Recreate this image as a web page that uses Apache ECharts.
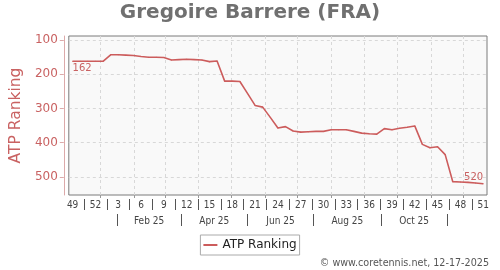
<!DOCTYPE html>
<html><head><meta charset="utf-8">
<script src="https://cdn.jsdelivr.net/npm/echarts@6/dist/echarts.min.js"></script>
<style>html,body{margin:0;padding:0;background:#fff}#c{width:500px;height:270px}</style>
</head><body><div id="c"></div>
<script>
// ---- data ----
const weekLabels = ['49','50','51','52','1','2','3','4','5','6','7','8','9','10','11','12','13','14','15','16','17','18','19','20','21','22','23','24','25','26','27','28','29','30','31','32','33','34','35','36','37','38','39','40','41','42','43','44','45','46','47','48','49','50','51'];
const ranking = [162,162,162,162,162,143,143,144,145,148,150,150,151,158,157,156,157,158,163,161,220,220,221,256,291,296,326,357,353,366,369,368,367,367,362,362,362,367,372,374,375,359,362,358,355,351,405,415,412,435,514,515,516,518,520];
const yTicks = [100,200,300,400,500];
const monthLabels = ['Feb 25','Apr 25','Jun 25','Aug 25','Oct 25'];
const monthSepDates = [[2025,0,16],[2025,2,16],[2025,4,16],[2025,6,16],[2025,8,16],[2025,10,16]];
const monthStartDates = [[2025,0,1],[2025,1,1],[2025,2,1],[2025,3,1],[2025,4,1],[2025,5,1],[2025,6,1],[2025,7,1],[2025,8,1],[2025,9,1],[2025,10,1],[2025,11,1]];
const titleText = 'Gregoire Barrere (FRA)';
const seriesName = 'ATP Ranking';
const creditText = '\u00a9 www.coretennis.net, 12-17-2025';

// ---- helpers ----
const DAY = 86400000;
const ref = Date.UTC(2025,0,1);
const dayOf = d => (Date.UTC(d[0],d[1],d[2]) - ref) / DAY;
const n = ranking.length;
const labelIdx = weekLabels.map((_, i) => i).filter(i => i % 3 === 0);
const sepIdx = [];
for (let i = 1.5; i < n - 1; i += 3) sepIdx.push(i);
const sepDays = monthSepDates.map(dayOf);
const monthLabelDays = monthLabels.map((_, k) => (sepDays[k] + sepDays[k+1]) / 2);
const monthStartDays = monthStartDates.map(dayOf);
const dayMin = -29.4, dayMax = dayMin + n * 7;

const red = '#cc5c5c';
const labRed = '#c96262';
const small = 'DejaVu Sans Condensed, DejaVu Sans';

const data = ranking.map((v, i) => {
  const item = { value: [i, v] };
  if (i === 0) item.label = { show: true, position: 'bottom', distance: 2, align: 'left', formatter: String(v), color: labRed, fontSize: 10, fontFamily: 'DejaVu Sans' };
  if (i === n - 1) item.label = { show: true, position: 'top', distance: 1, align: 'right', formatter: String(v), color: labRed, fontSize: 10, fontFamily: 'DejaVu Sans' };
  return item;
});

const chart = echarts.init(document.getElementById('c'), null, { renderer: 'canvas' });
chart.setOption({
  animation: false,
  backgroundColor: '#ffffff',
  title: {
    text: titleText, left: 'center', top: 3, padding: 0,
    textStyle: { fontFamily: 'DejaVu Sans', fontWeight: 'bold', fontSize: 20, color: '#707070' }
  },
  legend: {
    data: [seriesName], left: 'center', top: 235,
    borderColor: '#aaaaaa', borderWidth: 1, borderRadius: 0, padding: [4, 3],
    icon: 'rect', itemWidth: 14, itemHeight: 2, itemGap: 5,
    textStyle: { fontFamily: 'DejaVu Sans', fontSize: 12, color: '#222' }
  },
  graphic: [{
    type: 'text', right: 11, bottom: 2,
    style: { text: creditText, fill: '#555', font: '9.6px "DejaVu Sans"' }
  }],
  grid: {
    left: 68, right: 13, top: 36, bottom: 75, show: true,
    backgroundColor: '#f9f9f9', borderColor: '#7a7a7a', borderWidth: 1
  },
  xAxis: [{
    type: 'value', min: -0.5, max: n - 0.5, position: 'bottom', offset: 4,
    axisLine: { show: false, onZero: false },
    axisTick: { show: true, customValues: sepIdx, length: 11, lineStyle: { color: '#555', width: 1 } },
    axisLabel: { show: true, customValues: labelIdx, margin: 1.5, formatter: v => weekLabels[Math.round(v)],
      fontFamily: small, fontSize: 10, color: '#444' },
    splitLine: { show: false }
  }, {
    type: 'value', min: dayMin, max: dayMax, position: 'bottom',
    axisLine: { show: false, onZero: false },
    axisTick: { show: true, customValues: monthStartDays, length: 3, lineStyle: { color: '#999' } },
    axisLabel: { show: false },
    splitLine: { show: true, lineStyle: { color: '#d8d8d8', type: [3, 3], width: 1 } }
  }, {
    type: 'value', min: dayMin, max: dayMax, position: 'bottom', offset: 19,
    axisLine: { show: false, onZero: false },
    axisTick: { show: true, customValues: sepDays, length: 12, lineStyle: { color: '#555', width: 1 } },
    axisLabel: { show: true, customValues: monthLabelDays, margin: 2,
      formatter: v => { let b = 0; monthLabelDays.forEach((d, k) => { if (Math.abs(d - v) < Math.abs(monthLabelDays[b] - v)) b = k; }); return monthLabels[b]; },
      fontFamily: small, fontSize: 10, color: '#444' },
    splitLine: { show: false }
  }],
  yAxis: {
    type: 'value', inverse: true, min: 88, max: 553, offset: 5, position: 'left',
    name: seriesName, nameLocation: 'middle', nameRotate: 90, nameGap: 23,
    nameTextStyle: { fontFamily: 'DejaVu Sans', fontSize: 15.5, color: labRed },
    axisLine: { show: true, onZero: false, lineStyle: { color: '#dcaaaa', width: 1 } },
    axisTick: { show: true, customValues: yTicks, length: 4, lineStyle: { color: '#dcaaaa' } },
    axisLabel: { customValues: yTicks, margin: 6, fontFamily: 'DejaVu Sans', fontSize: 12, color: labRed },
    splitLine: { show: true, lineStyle: { color: '#d8d8d8', type: [3, 3], width: 1 } }
  },
  series: [{
    name: seriesName, type: 'line', xAxisIndex: 0, data: data,
    symbol: 'circle', symbolSize: 1, showSymbol: true,
    itemStyle: { color: red },
    lineStyle: { color: red, width: 1.6 },
    z: 5
  }]
});
</script></body></html>
